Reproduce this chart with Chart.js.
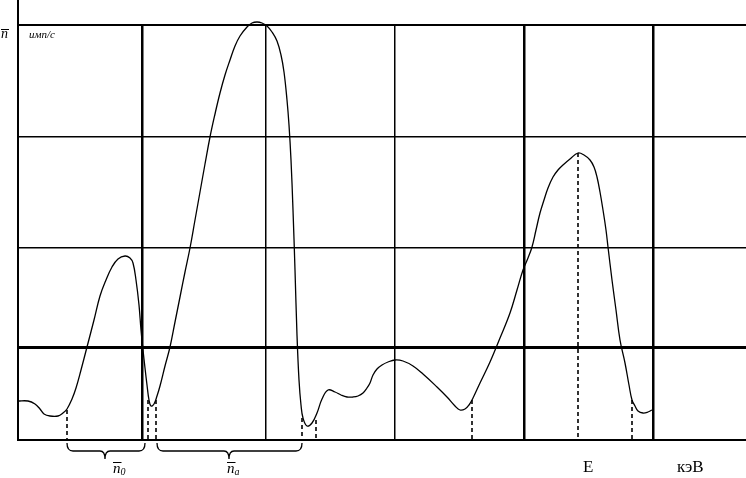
<!DOCTYPE html>
<html>
<head>
<meta charset="utf-8">
<script src="https://cdn.jsdelivr.net/npm/chart.js@4"></script>
<style>
  html, body { margin: 0; padding: 0; background: #fff; }
  #wrap { width: 746px; height: 478px; position: relative; }
</style>
</head>
<body>
<div id="wrap"><canvas id="c"></canvas></div>
<script>
// Spectrum: channel number (energy axis) and count rate (imp/s)
const channel = [0,10,17,22,26,32,40,45,49,54,58,63,69,76,82,88,94,100,107,112,115,118,121,123,125,127,129,131,133,136,139,142,147,152,157,162,167,172,177,182,187,192,197,202,207,212,217,222,229,234,239,244,249,254,259,263,266,269,271,273,275,277,279,281,283,285,289,294,299,304,310,317,323,329,335,340,345,349,352,355,359,364,370,377,385,395,405,419,429,437,442,447,451,455,462,472,482,492,499,505,510,514,518,522,526,530,535,540,545,552,560,566,572,576,579,582,585,588,590,594,598,602,607,611,614,617,620,625,630,634];
const counts  = [39,39,36,31,26,24,24,27,31,41,52,70,93,120,144,160,173,181,184,182,177,160,135,110,90,72,55,40,34,36,44,54,74,93,118,143,168,192,220,248,276,303,326,347,365,380,394,404,413,417,418,417,414,408,399,385,368,340,315,280,230,170,105,60,35,22,14,17,27,41,50,48,45,43,43,44,47,52,57,65,71,75,78,80,79,74,66,53,43,34,30,31,35,42,57,78,102,127,150,170,182,193,210,227,240,252,263,270,275,281,287,285,280,273,263,248,230,210,193,160,130,100,77,55,40,34,29,27,28,30];

// Dashed marker lines (channel, count at the curve)
const markerX = [49,130,138,284,298,454,560,614];
const markerY = [30,40,40,22,20,40,287,40];

// Grid (tick) positions
const xTicks = [0,124,248,377,506,635];
const yTicks = [0,93,192,303,415];
const xGridWidth = [0,2.5,1.5,1.5,2.5,2.5];
const yGridWidth = [0,3,1.5,1.5,2];

// Braces under the axis: from, to, tip (channels), subscript label
const braceFrom = [49,139];
const braceTo   = [127,284];
const braceTip  = [87,211];
const braceLabelX = [95,209];
const braceSub  = ['0','a'];

const curve = channel.map((x,i)=>({x:x, y:counts[i]}));
const markerSets = markerX.map((x,i)=>({
  data:[{x:x,y:markerY[i]},{x:x,y:0}],
  borderColor:'#000', borderWidth:1.6, borderDash:[4,3], pointRadius:0, fill:false, clip:false, tension:0
}));

const overlay = {
  id:'overlay',
  afterDraw(chart){
    const ctx = chart.ctx, a = chart.chartArea;
    const xs = chart.scales.x;
    ctx.save();
    ctx.strokeStyle = '#000';
    ctx.fillStyle = '#000';
    // left axis extension above the plot
    ctx.lineWidth = 2;
    ctx.beginPath(); ctx.moveTo(a.left, 0); ctx.lineTo(a.left, a.top); ctx.stroke();

    // braces
    ctx.lineWidth = 1.3;
    for (let i=0;i<braceFrom.length;i++){
      const x0 = xs.getPixelForValue(braceFrom[i]);
      const x1 = xs.getPixelForValue(braceTo[i]);
      const xt = xs.getPixelForValue(braceTip[i]);
      const yTop = a.bottom + 3, yMid = a.bottom + 11, yTip = a.bottom + 19;
      ctx.beginPath();
      ctx.moveTo(x0, yTop);
      ctx.quadraticCurveTo(x0, yMid, x0+6, yMid);
      ctx.lineTo(xt-5, yMid);
      ctx.quadraticCurveTo(xt, yMid, xt, yTip);
      ctx.quadraticCurveTo(xt, yMid, xt+5, yMid);
      ctx.lineTo(x1-6, yMid);
      ctx.quadraticCurveTo(x1, yMid, x1, yTop);
      ctx.stroke();

      // label n̄ with subscript
      const lx = xs.getPixelForValue(braceLabelX[i]);
      ctx.font = 'italic 15px "Liberation Serif"';
      ctx.textBaseline = 'alphabetic';
      ctx.textAlign = 'left';
      ctx.fillText('n', lx, a.bottom + 33);
      const w = ctx.measureText('n').width;
      ctx.lineWidth = 1;
      ctx.beginPath(); ctx.moveTo(lx, a.bottom+22.5); ctx.lineTo(lx+w+1, a.bottom+22.5); ctx.stroke();
      ctx.font = 'italic 10px "Liberation Serif"';
      ctx.fillText(braceSub[i], lx+w, a.bottom + 35);
      ctx.lineWidth = 1.3;
    }

    // axis labels
    ctx.font = '17px "Liberation Serif"';
    ctx.textAlign = 'left';
    ctx.fillText('E', 583, 472);
    ctx.fillText('кэВ', 677, 472);

    ctx.font = 'italic 14px "Liberation Serif"';
    ctx.fillText('n', 1, 38);
    ctx.lineWidth = 1;
    ctx.beginPath(); ctx.moveTo(1, 29.5); ctx.lineTo(9, 29.5); ctx.stroke();
    ctx.font = 'italic 11px "Liberation Serif"';
    ctx.fillText('имп/с', 29, 38);
    ctx.restore();
  }
};

new Chart(document.getElementById('c'), {
  type:'line',
  data:{
    datasets:[{
      data: curve,
      borderColor:'#000', borderWidth:1.3, pointRadius:0, fill:false,
      tension:0.4, clip:false
    }, ...markerSets]
  },
  options:{
    responsive:true, maintainAspectRatio:false, animation:false,
    layout:{ padding:{ left:18, top:25, right:0, bottom:38 } },
    plugins:{ legend:{display:false}, tooltip:{enabled:false}, title:{display:false} },
    scales:{
      x:{
        type:'linear', min:0, max:728,
        afterBuildTicks: s => { s.ticks = xTicks.map(v=>({value:v})); },
        ticks:{ display:false },
        grid:{ drawTicks:false, color:'#000', lineWidth: c => xGridWidth[c.index] ?? 0 },
        border:{ display:true, color:'#000', width:2 }
      },
      y:{
        type:'linear', min:0, max:415,
        afterBuildTicks: s => { s.ticks = yTicks.map(v=>({value:v})); },
        ticks:{ display:false },
        grid:{ drawTicks:false, color:'#000', lineWidth: c => yGridWidth[c.index] ?? 0 },
        border:{ display:true, color:'#000', width:2 }
      }
    }
  },
  plugins:[overlay]
});
</script>
</body>
</html>
